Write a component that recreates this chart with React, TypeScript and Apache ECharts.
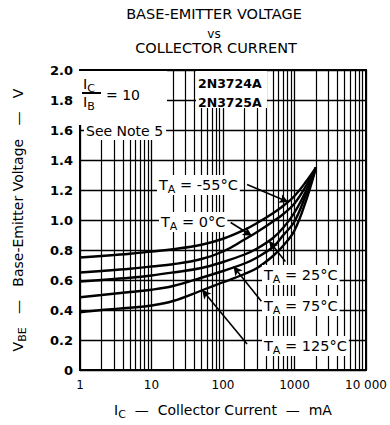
import React, { useEffect, useRef } from 'react';
import * as echarts from 'echarts';

// Collector current (mA) sample points
const currents = [1, 2, 5, 10, 20, 50, 100, 200, 300, 500, 700, 1000, 1500, 2000];
// Base-emitter voltage (V) per ambient temperature
const vbeM55 = [0.75, 0.76, 0.775, 0.79, 0.805, 0.835, 0.875, 0.935, 0.98, 1.045, 1.095, 1.16, 1.265, 1.35];
const vbe0 = [0.65, 0.66, 0.675, 0.69, 0.705, 0.74, 0.79, 0.87, 0.92, 0.99, 1.04, 1.11, 1.24, 1.35];
const vbe25 = [0.59, 0.60, 0.615, 0.63, 0.65, 0.68, 0.72, 0.77, 0.81, 0.88, 0.95, 1.05, 1.21, 1.35];
const vbe75 = [0.485, 0.50, 0.52, 0.535, 0.56, 0.615, 0.66, 0.71, 0.75, 0.82, 0.90, 0.99, 1.19, 1.35];
const vbe125 = [0.385, 0.40, 0.415, 0.43, 0.46, 0.53, 0.585, 0.64, 0.68, 0.76, 0.83, 0.93, 1.15, 1.35];

const seriesNames = ['-55°C', '0°C', '25°C', '75°C', '125°C'];
const seriesValues = [vbeM55, vbe0, vbe25, vbe75, vbe125];

// Leader arrows: [label-end (mA, V), curve point (mA, V)]
const arrows: [number, number, number, number][] = [
  [217, 1.236, 818, 1.12],
  [128, 0.983, 253, 0.895],
  [745, 0.724, 441, 0.86],
  [344, 0.458, 140, 0.69],
  [217, 0.173, 51, 0.535],
];

const xTicks = [1, 10, 100, 1000, 10000];
const minorX: number[] = [];
[1, 10, 100, 1000].forEach((d) => {
  for (let m = 2; m <= 9; m++) minorX.push(m * d);
});

const FONT = 'DejaVu Sans';

const tempLabel = (t: string) => `{t|T}{s|A}{t| = ${t}}`;
const tempRich = {
  t: { fontFamily: FONT, fontSize: 14.5, fill: '#000', lineHeight: 20, verticalAlign: 'middle' },
  s: { fontFamily: FONT, fontSize: 11, fill: '#000', lineHeight: 20, verticalAlign: 'bottom', padding: [9, 0, 0, 0] },
};

export default function App() {
  const ref = useRef<HTMLDivElement>(null);
  useEffect(() => {
    if (!ref.current) return;
    const chart = echarts.init(ref.current, undefined, { renderer: 'svg' });
    const series: any[] = seriesNames.map((name, i) => ({
      name,
      type: 'line',
      data: currents.map((c, j) => [c, seriesValues[i][j]]),
      smooth: 0.4,
      symbol: 'none',
      lineStyle: { color: '#000', width: 2.4 },
      z: 5,
      markLine: {
        silent: true,
        symbol: ['none', 'arrow'],
        symbolSize: [7, 9],
        label: { show: false },
        lineStyle: { color: '#000', width: 1.6, type: 'solid' },
        data: [[
          { coord: [arrows[i][0], arrows[i][1]] },
          { coord: [arrows[i][2], arrows[i][3]] },
        ]],
      },
    }));
    series.push({
      type: 'line',
      data: [],
      z: 2,
      markLine: {
        silent: true,
        symbol: ['none', 'none'],
        label: { show: false },
        lineStyle: { color: '#000', width: 1.2, type: 'solid' },
        data: minorX.map((v) => ({ xAxis: v })),
      },
    });

    const text = (x: number, y: number, t: string, extra: any = {}) => ({
      type: 'text',
      x,
      y,
      z: 101,
      style: { text: t, fontFamily: FONT, fontSize: 14, fill: '#000', align: 'left', verticalAlign: 'middle', ...extra },
    });

    chart.setOption({
      animation: false,
      backgroundColor: '#fff',
      grid: { left: 73, right: 19, top: 70, bottom: 54, show: true, borderColor: '#000', borderWidth: 2, containLabel: false },
      xAxis: {
        type: 'log',
        logBase: 10,
        min: xTicks[0],
        max: xTicks[xTicks.length - 1],
        name: '{i|I}{s|C}{n|  —  Collector Current  —  mA}',
        nameLocation: 'middle',
        nameGap: 30,
        nameTextStyle: {
          rich: {
            i: { fontFamily: FONT, fontSize: 14, color: '#000', lineHeight: 20 },
            s: { fontFamily: FONT, fontSize: 11, color: '#000', lineHeight: 20, verticalAlign: 'bottom', padding: [9, 0, 0, 0] },
            n: { fontFamily: FONT, fontSize: 14, color: '#000', lineHeight: 20 },
          },
        },
        axisLine: { lineStyle: { color: '#000', width: 2 } },
        axisTick: { show: false },
        axisLabel: {
          color: '#000',
          fontFamily: FONT,
          fontSize: 12,
          margin: 9,
          formatter: (v: number) => (v === 10000 ? '10 000' : String(v)),
        },
        splitLine: { show: true, lineStyle: { color: '#000', width: 1.3 } },
      },
      yAxis: {
        type: 'value',
        min: 0,
        max: 2,
        interval: 0.2,
        name: '{m|V}{s|BE}{m|   —   Base-Emitter Voltage   —   V}',
        nameLocation: 'middle',
        nameRotate: 90,
        nameGap: 52,
        nameTextStyle: {
          rich: {
            m: { fontFamily: FONT, fontSize: 14, color: '#000', lineHeight: 20 },
            s: { fontFamily: FONT, fontSize: 11, color: '#000', lineHeight: 20, verticalAlign: 'bottom', padding: [9, 0, 0, 0] },
          },
        },
        axisLine: { show: true, lineStyle: { color: '#000', width: 2 } },
        axisTick: { show: false },
        axisLabel: {
          color: '#000',
          fontFamily: FONT,
          fontSize: 13,
          fontWeight: 'bold',
          margin: 7,
          formatter: (v: number) => (v === 0 ? '0' : v.toFixed(1)),
        },
        splitLine: { show: true, lineStyle: { color: '#000', width: 1.3 } },
      },
      series,
      graphic: [
        text(214, 14, 'BASE-EMITTER VOLTAGE', { align: 'center', fontSize: 14.5 }),
        text(214, 34, 'vs', { align: 'center', fontSize: 12 }),
        text(216, 48, 'COLLECTOR CURRENT', { align: 'center', fontSize: 14.5 }),
        { type: 'rect', z: 100, shape: { x: 74, y: 71, width: 93, height: 54 }, style: { fill: '#fff' } },
        { type: 'rect', z: 100, shape: { x: 196, y: 71, width: 71, height: 37 }, style: { fill: '#fff' } },
        text(83, 84, '{t|I}{s|C}', { rich: tempRich }),
        {
          type: 'line', z: 101,
          shape: { x1: 82, y1: 93, x2: 101, y2: 93 },
          style: { stroke: '#000', lineWidth: 2 },
        },
        text(83, 102, '{t|I}{s|B}', { rich: tempRich }),
        text(106, 95, '= 10'),
        text(84, 131, 'See Note 5', { backgroundColor: '#fff', padding: [2, 3, 2, 2] }),
        text(198, 83, '2N3724A', { fontWeight: 'bold', fontSize: 12.5 }),
        text(198, 102, '2N3725A', { fontWeight: 'bold', fontSize: 12.5 }),
        text(157, 185, tempLabel('-55°C'), { rich: tempRich, backgroundColor: '#fff', padding: [0, 2, 0, 2] }),
        text(159, 222, tempLabel('0°C'), { rich: tempRich, backgroundColor: '#fff', padding: [0, 2, 0, 2] }),
        text(262, 275, tempLabel('25°C'), { rich: tempRich, backgroundColor: '#fff', padding: [0, 2, 0, 2] }),
        text(262, 306, tempLabel('75°C'), { rich: tempRich, backgroundColor: '#fff', padding: [0, 2, 0, 2] }),
        text(262, 346, tempLabel('125°C'), { rich: tempRich, backgroundColor: '#fff', padding: [0, 2, 0, 2] }),
      ],
    });
    return () => chart.dispose();
  }, []);
  return <div ref={ref} style={{ width: 390, height: 425, position: 'absolute', left: 0, top: 0 }} />;
}
